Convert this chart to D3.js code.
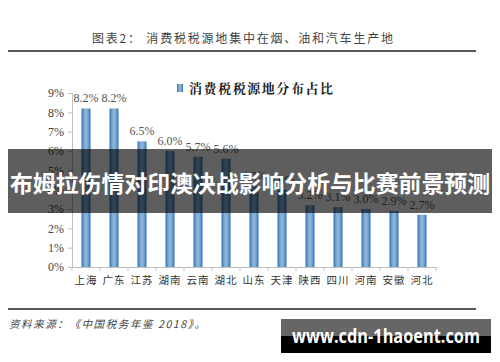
<!DOCTYPE html>
<html lang="zh">
<head>
<meta charset="UTF-8">
<title>消费税税源地分布占比</title>
<script src="https://d3js.org/d3.v7.min.js"></script>
<style>
    body { margin: 0; background: #fff; }
    svg { display: block; }
</style>
</head>
<body>
<svg id="chart"></svg>
<script>
    // data
    const provinces = ["上海", "广东", "江苏", "湖南", "云南", "湖北", "山东", "天津", "陕西", "四川", "河南", "安徽", "河北"];
    const shares = [8.2, 8.2, 6.5, 6.0, 5.7, 5.6, 4.2, 4.0, 3.2, 3.1, 3.0, 2.9, 2.7];
    const yTicks = [0, 1, 2, 3, 4, 5, 6, 7, 8, 9];

    const width = 500, height = 362;
    const svg = d3.select("#chart").attr("width", width).attr("height", height);
    const cjk = "'Noto Sans CJK SC', sans-serif";

    // bar gradient (darker edges, light centre)
    const grad = svg.append("defs").append("linearGradient")
        .attr("id", "barGrad").attr("x1", "0").attr("x2", "1").attr("y1", "0").attr("y2", "0");
    grad.append("stop").attr("offset", "0%").attr("stop-color", "#2f73b3");
    grad.append("stop").attr("offset", "25%").attr("stop-color", "#6d9fcb");
    grad.append("stop").attr("offset", "50%").attr("stop-color", "#93b8da");
    grad.append("stop").attr("offset", "75%").attr("stop-color", "#6d9fcb");
    grad.append("stop").attr("offset", "100%").attr("stop-color", "#2f73b3");

    // title + rules
    svg.append("text").attr("x", 92).attr("y", 43)
        .attr("textLength", 301).attr("lengthAdjust", "spacing")
        .style("font-family", cjk).style("font-size", "12px").style("fill", "#444")
        .text("图表2：  消费税税源地集中在烟、油和汽车生产地");
    svg.append("line").attr("x1", 8).attr("x2", 476).attr("y1", 51).attr("y2", 51)
        .attr("stroke", "#222").attr("stroke-width", 1.6);
    svg.append("line").attr("x1", 8).attr("x2", 476).attr("y1", 309).attr("y2", 309)
        .attr("stroke", "#222").attr("stroke-width", 1.6);

    // legend
    svg.append("rect").attr("x", 177).attr("y", 84).attr("width", 6).attr("height", 8)
        .attr("fill", "url(#barGrad)");
    svg.append("text").attr("x", 189).attr("y", 93)
        .attr("textLength", 144).attr("lengthAdjust", "spacing")
        .style("font-family", "'Noto Serif CJK SC', " + cjk).style("font-size", "13px")
        .style("font-weight", "bold").style("fill", "#222")
        .text("消费税税源地分布占比");

    // scales
    const x = d3.scaleBand().domain(provinces).range([72, 436]);
    const y = d3.scaleLinear().domain([0, 9]).range([267, 93]);

    const yAxis = svg.append("g").attr("transform", "translate(72,0)")
        .call(d3.axisLeft(y).tickValues(yTicks).tickSize(4).tickPadding(4).tickFormat(d => d + "%"));
    yAxis.selectAll("path, line").attr("stroke", "#bfbfbf");
    yAxis.selectAll("text").style("font-family", "'Liberation Serif', serif")
        .style("font-size", "12px").style("fill", "#444");

    const xAxis = svg.append("g").attr("transform", "translate(0,267)")
        .call(d3.axisBottom(x).tickSize(0).tickPadding(10));
    xAxis.select(".domain").attr("stroke", "#bfbfbf");
    xAxis.selectAll("text").style("font-family", cjk).style("font-size", "10.5px")
        .style("letter-spacing", "1px").style("fill", "#333");
    // ticks between categories
    xAxis.selectAll(".sep").data(provinces.concat([null]))
        .join("line").attr("class", "sep")
        .attr("x1", (d, i) => 72 + i * x.step()).attr("x2", (d, i) => 72 + i * x.step())
        .attr("y1", 0).attr("y2", 4).attr("stroke", "#bfbfbf");

    // bars
    const barW = 9;
    svg.selectAll(".bar").data(provinces).join("rect").attr("class", "bar")
        .attr("x", d => x(d) + x.bandwidth() / 2 - barW / 2)
        .attr("y", (d, i) => y(shares[i]))
        .attr("width", barW)
        .attr("height", (d, i) => y(0) - y(shares[i]))
        .attr("fill", "url(#barGrad)");

    svg.selectAll(".val").data(provinces).join("text").attr("class", "val")
        .attr("x", d => x(d) + x.bandwidth() / 2)
        .attr("y", (d, i) => y(shares[i]) - 6)
        .attr("text-anchor", "middle")
        .style("font-family", "'Liberation Serif', serif").style("font-size", "12px").style("fill", "#555")
        .text((d, i) => shares[i].toFixed(1) + "%");

    // source
    svg.append("text").attr("x", 9).attr("y", 328)
        .attr("textLength", 196).attr("lengthAdjust", "spacing")
        .style("font-family", cjk).style("font-size", "10.5px").style("font-style", "italic")
        .style("fill", "#444")
        .text("资料来源：《中国税务年鉴 2018》。");

    // overlay banner
    svg.append("rect").attr("x", 8).attr("y", 149).attr("width", 484).attr("height", 64)
        .attr("fill", "rgba(0,0,0,0.63)");
    svg.append("text").attr("x", 250).attr("y", 192).attr("text-anchor", "middle")
        .attr("textLength", 480).attr("lengthAdjust", "spacingAndGlyphs")
        .style("font-family", cjk).style("font-size", "23px").style("font-weight", "bold")
        .style("fill", "#fff")
        .text("布姆拉伤情对印澳决战影响分析与比赛前景预测");

    // watermark
    svg.append("rect").attr("x", 281).attr("y", 319).attr("width", 210).attr("height", 18).attr("fill", "#666");
    svg.append("rect").attr("x", 281).attr("y", 336).attr("width", 210).attr("height", 17).attr("fill", "#000");
    svg.append("text").attr("x", 386).attr("y", 343).attr("text-anchor", "middle")
        .attr("textLength", 188).attr("lengthAdjust", "spacingAndGlyphs")
        .style("font-family", "'Open Sans', sans-serif").style("font-size", "19px").style("font-weight", "bold")
        .style("fill", "#fff")
        .text("www.cdn-1haoent.com");
</script>
</body>
</html>
